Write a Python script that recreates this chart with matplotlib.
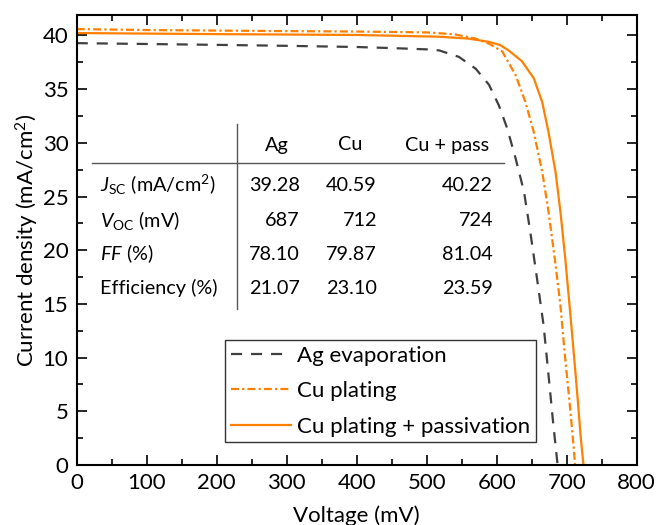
import matplotlib
matplotlib.use("Agg")
import matplotlib.pyplot as plt
from matplotlib.ticker import MultipleLocator

plt.rcParams['font.family'] = ['Lato', 'DejaVu Sans']
plt.rcParams['mathtext.fontset'] = 'custom'
plt.rcParams['mathtext.rm'] = 'Lato'
plt.rcParams['mathtext.it'] = 'Lato:italic'

# ---- data ----
v_ag = [0, 100, 200, 300, 400, 450, 500, 518, 546, 570, 589, 603, 615, 627, 639, 648, 657.5, 667, 674, 681, 687]
j_ag = [39.28, 39.20, 39.12, 39.03, 38.92, 38.82, 38.70, 38.6, 38.0, 36.9, 35.4, 33.5, 31.35, 28.55, 25.45, 21.7, 17.4, 13.0, 8.4, 3.7, 0.0]

v_cu = [0, 100, 200, 300, 400, 500, 540, 570, 590, 608, 627, 641, 653, 665, 674, 683, 691, 697, 704, 710, 712]
j_cu = [40.59, 40.50, 40.45, 40.40, 40.36, 40.28, 40.1, 39.7, 39.2, 38.5, 36.3, 33.8, 31.0, 27.3, 23.6, 19.2, 14.9, 10.5, 5.9, 1.6, 0.0]

v_cp = [0, 100, 200, 300, 400, 517, 560, 589, 605, 617, 636, 653, 665, 674, 684, 691, 698, 704, 710, 716, 720, 724]
j_cp = [40.22, 40.17, 40.12, 40.08, 40.04, 39.88, 39.7, 39.4, 39.1, 38.6, 37.6, 36.0, 33.8, 31.0, 27.3, 23.6, 19.2, 14.9, 10.5, 5.9, 2.6, 0.0]

labels = ["Ag evaporation", "Cu plating", "Cu plating + passivation"]

col_headers = ["Ag", "Cu", "Cu + pass"]
row_labels = [r"$J_{\rm SC}$ (mA/cm$^{2}$)", r"$V_{\rm OC}$ (mV)", r"$FF$ (%)", "Efficiency (%)"]
table_vals = [["39.28", "40.59", "40.22"],
              ["687", "712", "724"],
              ["78.10", "79.87", "81.04"],
              ["21.07", "23.10", "23.59"]]

W, H = 658, 525
fig = plt.figure(figsize=(W / 100, H / 100), dpi=100)
ax = fig.add_axes([76.7 / W, 1 - 465 / H, (636.7 - 76.7) / W, (465 - 15) / H])

orange = "#FF8000"
gray = "#404040"
ax.plot(v_ag, j_ag, color=gray, lw=1.6, linestyle=(0, (5, 4)), label=labels[0])
ax.plot(v_cu, j_cu, color=orange, lw=1.6, linestyle=(0, (3.6, 1.4, 1, 1.4)), label=labels[1])
ax.plot(v_cp, j_cp, color=orange, lw=1.6, linestyle='-', label=labels[2])

ax.set_xlim(0, 800)
ax.set_ylim(0, 41.9)
ax.xaxis.set_major_locator(MultipleLocator(100))
ax.xaxis.set_minor_locator(MultipleLocator(50))
ax.yaxis.set_major_locator(MultipleLocator(5))
ax.yaxis.set_minor_locator(MultipleLocator(2.5))
ax.tick_params(which='both', direction='in', top=True, right=True, width=1.2, labelsize=16, colors='black', pad=6)
ax.tick_params(which='major', length=7)
ax.tick_params(which='minor', length=4)
for s in ax.spines.values():
    s.set_linewidth(1.5)

ax.set_xlabel("Voltage (mV)", fontsize=16, labelpad=9)
ax.set_ylabel("Current density (mA/cm$^{2}$)", fontsize=16, labelpad=1)

leg = ax.legend(loc='upper left', bbox_to_anchor=((225 - 76.7) / 560, (465 - 340) / 450),
                fontsize=16, frameon=True, fancybox=False, edgecolor='black',
                handlelength=2.7, handletextpad=0.3, borderpad=0.25, labelspacing=0.7,
                borderaxespad=0)
leg.get_frame().set_linewidth(1.0)

# ---- inset table ----
def fx(px):
    return px / W
def fy(py):
    return 1 - py / H

tfs = 14.3
fig.add_artist(plt.Line2D([fx(236.7), fx(236.7)], [fy(124), fy(309)], color='#555555', lw=1.0))
fig.add_artist(plt.Line2D([fx(92), fx(504)], [fy(162.5), fy(162.5)], color='#555555', lw=1.0))
header_x = [277, 350, 447]
for hx, h in zip(header_x, col_headers):
    fig.text(fx(hx), fy(145), h, ha='center', va='center', fontsize=tfs)
row_y = [185, 220, 254, 288]
val_x = [300, 377, 493]
for ry, rl, vals in zip(row_y, row_labels, table_vals):
    fig.text(fx(100), fy(ry), rl, ha='left', va='center', fontsize=tfs)
    for vx, v in zip(val_x, vals):
        fig.text(fx(vx), fy(ry), v, ha='right', va='center', fontsize=tfs)

fig.savefig("out.png", dpi=100)
